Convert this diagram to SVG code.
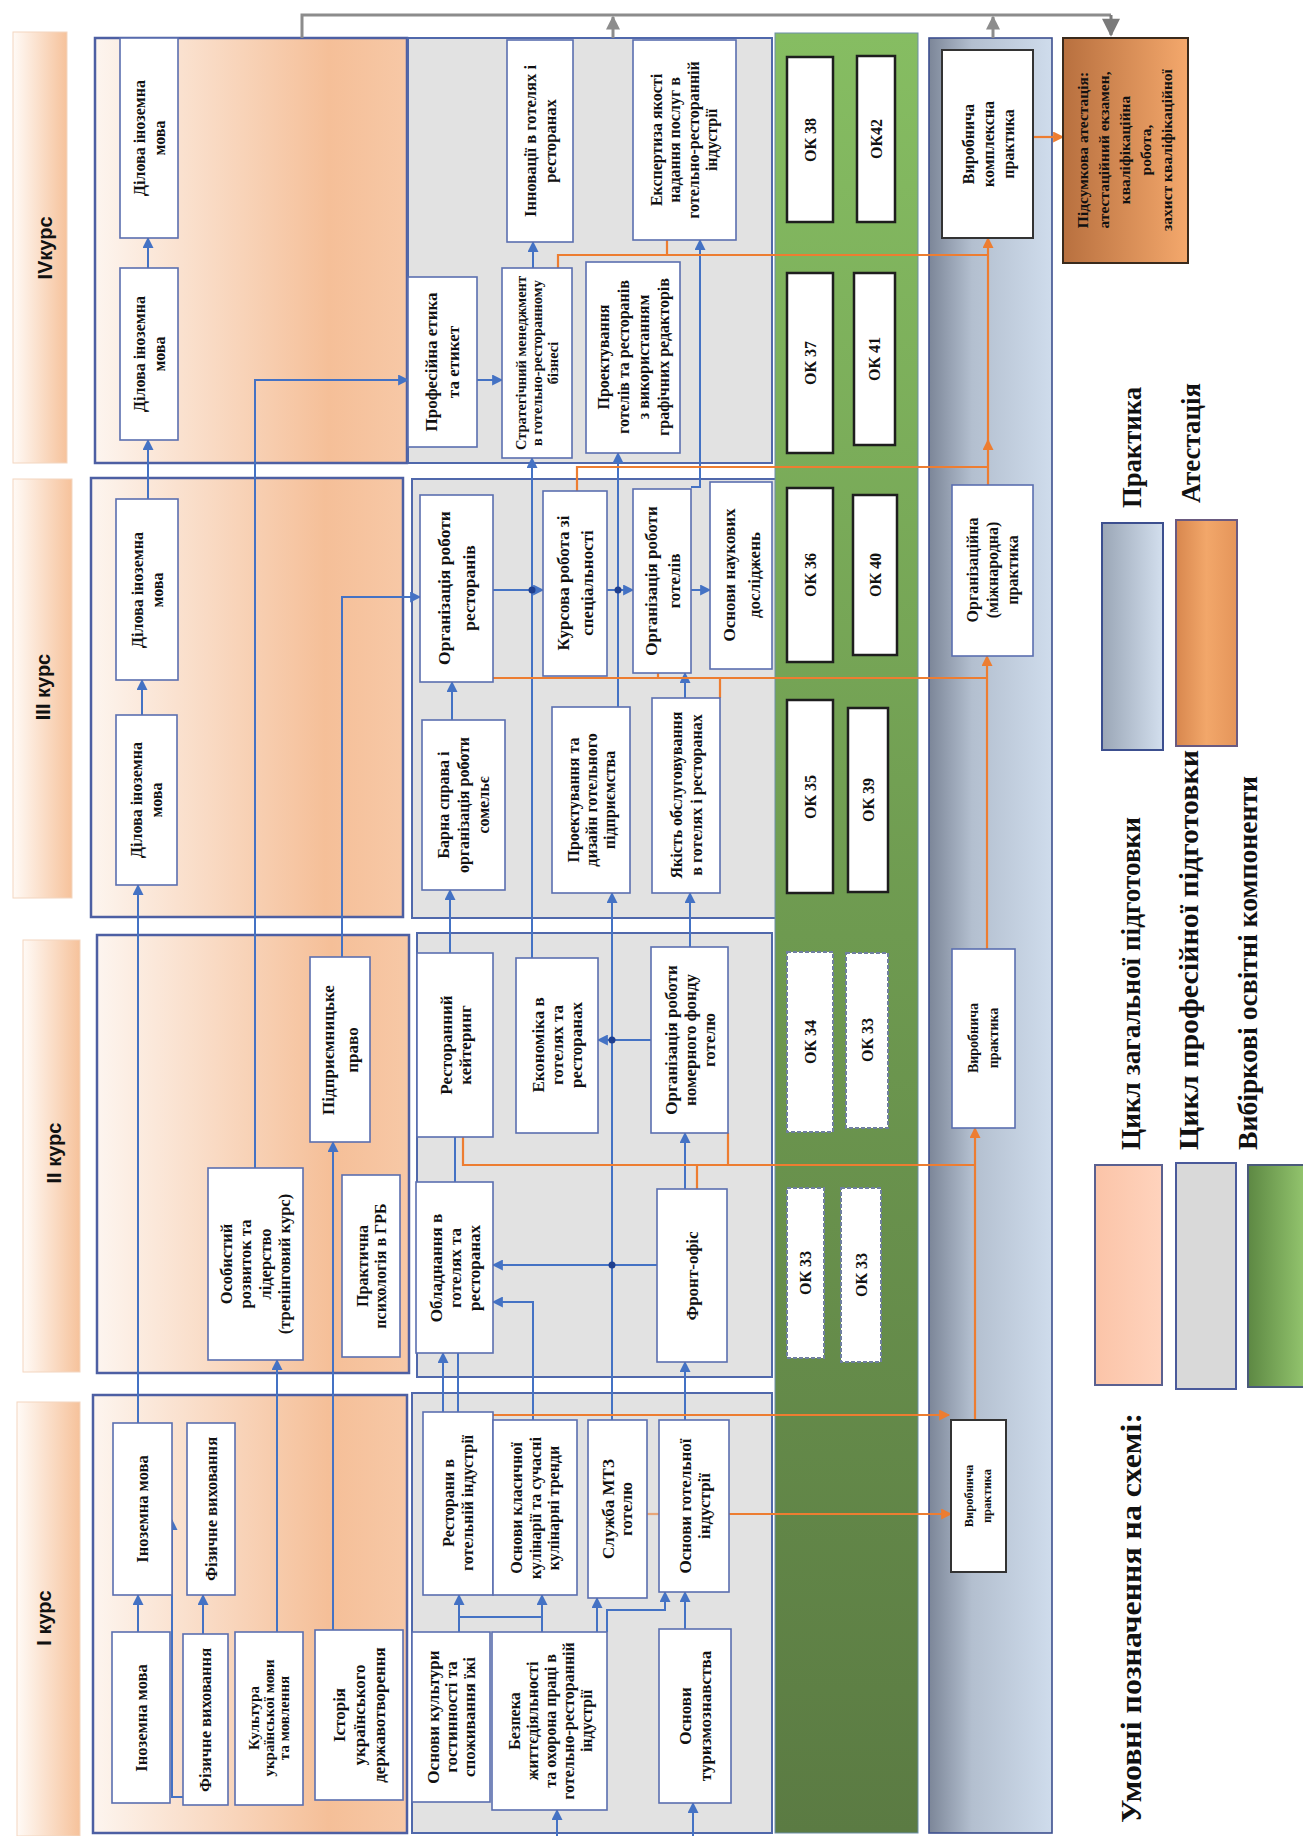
<svg xmlns="http://www.w3.org/2000/svg" width="1303" height="1836" viewBox="0 0 1303 1836">
<defs>
<style>
.pp{fill:url(#gPeach);stroke:#4d5fa3;stroke-width:2.5}
.gp{fill:#e2e2e2;stroke:#5068ab;stroke-width:2}
.band{fill:url(#gBand);stroke:#f3d6c0;stroke-width:1}
.bx{fill:#fff;stroke:#5b6fb0;stroke-width:1.6}
.ok{fill:#fff;stroke:#1e1e1e;stroke-width:2.5}
.okd{fill:#fff;stroke:#6f7f9f;stroke-width:2;stroke-dasharray:4 2}
.pb{fill:#fff;stroke:#333;stroke-width:2}
.t{font-family:"Liberation Serif","Times New Roman",serif;font-weight:bold;text-anchor:middle;fill:#111}
.k{font-family:"Liberation Sans",Arial,sans-serif;font-weight:bold;text-anchor:middle;fill:#111;font-size:20px}
.lg{font-family:"Liberation Serif","Times New Roman",serif;font-weight:bold;text-anchor:start;fill:#111}
.c{fill:none;stroke:#4472c4;stroke-width:2}
.ca{fill:none;stroke:#4472c4;stroke-width:2;marker-end:url(#ab)}
.o{fill:none;stroke:#ed7d31;stroke-width:2.2}
.oa{fill:none;stroke:#ed7d31;stroke-width:2.2;marker-end:url(#ao)}
.g{fill:none;stroke:#8c8c8c;stroke-width:3}
.ga{fill:none;stroke:#8c8c8c;stroke-width:3;marker-end:url(#ag)}
</style>
<linearGradient id="gPeach" x1="0" y1="0" x2="1" y2="0"><stop offset="0" stop-color="#fdf5ef"/><stop offset="0.75" stop-color="#f5bf98"/><stop offset="1" stop-color="#f7c8a6"/></linearGradient>
<linearGradient id="gBand" x1="0" y1="0" x2="1" y2="0"><stop offset="0" stop-color="#fffaf6"/><stop offset="1" stop-color="#f6c29b"/></linearGradient>
<linearGradient id="gGreen" x1="0" y1="0" x2="0" y2="1"><stop offset="0" stop-color="#86bd62"/><stop offset="0.5" stop-color="#6e9a50"/><stop offset="1" stop-color="#5b7b43"/></linearGradient>
<linearGradient id="gPrac" x1="0" y1="0" x2="1" y2="0"><stop offset="0" stop-color="#7c8698"/><stop offset="0.35" stop-color="#b3bfcf"/><stop offset="1" stop-color="#cfdcec"/></linearGradient>
<linearGradient id="gAtt" x1="0" y1="0" x2="1" y2="0"><stop offset="0" stop-color="#b8703f"/><stop offset="1" stop-color="#f4a86c"/></linearGradient>
<linearGradient id="gLPrac" x1="0" y1="0" x2="1" y2="0"><stop offset="0" stop-color="#9aa6b6"/><stop offset="1" stop-color="#d3dfee"/></linearGradient>
<linearGradient id="gLAtt" x1="0" y1="0" x2="1" y2="0"><stop offset="0" stop-color="#d8874e"/><stop offset="0.5" stop-color="#f2a76a"/><stop offset="1" stop-color="#e5955a"/></linearGradient>
<linearGradient id="gLPeach" x1="0" y1="0" x2="1" y2="0"><stop offset="0" stop-color="#fbc4a8"/><stop offset="1" stop-color="#ffd3bd"/></linearGradient>
<linearGradient id="gLGreen" x1="0" y1="0" x2="1" y2="0"><stop offset="0" stop-color="#5d8843"/><stop offset="1" stop-color="#96c870"/></linearGradient>
<marker id="ab" viewBox="0 0 10 10" refX="9" refY="5" markerWidth="12" markerHeight="11" markerUnits="userSpaceOnUse" orient="auto"><path d="M0,0 L10,5 L0,10 z" fill="#4472c4"/></marker>
<marker id="ao" viewBox="0 0 10 10" refX="9" refY="5" markerWidth="12" markerHeight="11" markerUnits="userSpaceOnUse" orient="auto"><path d="M0,0 L10,5 L0,10 z" fill="#ed7d31"/></marker>
<marker id="ag" viewBox="0 0 10 10" refX="9" refY="5" markerWidth="14" markerHeight="14" markerUnits="userSpaceOnUse" orient="auto"><path d="M0,0 L10,5 L0,10 z" fill="#8c8c8c"/></marker>
<marker id="agb" viewBox="0 0 10 10" refX="9" refY="5" markerWidth="20" markerHeight="18" markerUnits="userSpaceOnUse" orient="auto"><path d="M0,0 L10,5 L0,10 z" fill="#7a7a7a"/></marker>
</defs>
<rect width="1303" height="1836" fill="#fff"/>

<g id="bands">
<rect class="band" x="13" y="32" width="54" height="431"/>
<rect class="band" x="13" y="479" width="59" height="419"/>
<rect class="band" x="23" y="940" width="57" height="432"/>
<rect class="band" x="17" y="1402" width="63" height="434"/>
<text class="k" transform="rotate(-90 52 248)" x="52" y="248">IVкурс</text>
<text class="k" transform="rotate(-90 50 687)" x="50" y="687">III курс</text>
<text class="k" transform="rotate(-90 61 1153)" x="61" y="1153">II курс</text>
<text class="k" transform="rotate(-90 51 1618)" x="51" y="1618">I курс</text>
</g>

<g id="panels">
<rect class="pp" x="95" y="38" width="312" height="425"/>
<rect class="pp" x="91" y="478" width="312" height="439"/>
<rect class="pp" x="97" y="935" width="312" height="438"/>
<rect class="pp" x="93" y="1395" width="314" height="438"/>
<rect class="gp" x="408" y="38" width="364" height="425"/>
<rect class="gp" x="412" y="479" width="365" height="439"/>
<rect class="gp" x="417" y="933" width="355" height="444"/>
<rect class="gp" x="412" y="1393" width="360" height="440"/>
<rect x="775" y="33" width="143" height="1800" fill="url(#gGreen)" stroke="#6d8fa8" stroke-width="1"/>
<rect x="929" y="38" width="123" height="1795" fill="url(#gPrac)" stroke="#3c4f8f" stroke-width="1.6"/>
</g>

<g id="connectors">
<path class="g" d="M302,38 V15 H1111"/>
<path d="M1111,15 V35" fill="none" stroke="#7a7a7a" stroke-width="3" marker-end="url(#agb)"/>
<path class="ga" d="M613,38 V17"/>
<path class="ga" d="M993,38 V17"/>

<path class="ca" d="M148,268 V238"/>
<path class="ca" d="M148,499 V440"/>
<path class="ca" d="M142,715 V680"/>
<path class="ca" d="M138,1423 V885"/>
<path class="ca" d="M138,1632 V1595"/>
<path class="ca" d="M203,1634 V1595"/>
<path class="ca" d="M183,1797 H172 V1520"/>
<path class="ca" d="M277,1632 V1360"/>
<path class="ca" d="M333,1630 V1142"/>
<path class="ca" d="M255,1168 V380 H408"/>
<path class="ca" d="M342,957 V597 H420"/>
<path class="ca" d="M477,380 H502"/>
<path class="ca" d="M533,268 V242"/>
<path class="ca" d="M691,487 H700 V240"/>
<path class="ca" d="M618,707 V453"/>
<path class="ca" d="M493,590 H543"/>
<path class="ca" d="M607,590 H633"/>
<path class="ca" d="M691,590 H710"/>
<path class="ca" d="M452,720 V682"/>
<path class="ca" d="M450,953 V890"/>
<path class="ca" d="M532,958 V458"/>
<path class="ca" d="M612,1420 V893"/>
<path class="ca" d="M685,698 V673"/>
<path class="ca" d="M690,947 V893"/>
<path class="ca" d="M651,1040 H598"/>
<path class="ca" d="M685,1189 V1133"/>
<path class="ca" d="M657,1265 H493"/>
<path class="ca" d="M533,1420 V1302 H493"/>
<path class="c" d="M455,1182 V1137"/>
<path class="ca" d="M443,1412 V1353"/>
<path class="c" d="M458,1412 V1353"/>
<path class="ca" d="M685,1420 V1362"/>
<path class="ca" d="M459,1632 V1595"/>
<path class="ca" d="M542,1632 V1595"/>
<path class="c" d="M459,1617 H542"/>
<path class="ca" d="M597,1632 V1598"/>
<path class="ca" d="M607,1632 V1610 H665 V1592"/>
<path class="ca" d="M685,1629 V1592"/>
<path class="ca" d="M557,1836 V1810"/>
<path class="ca" d="M693,1836 V1803"/>
<circle cx="532" cy="590" r="3.5" fill="#1f3f8f"/>
<circle cx="618" cy="590" r="3.5" fill="#1f3f8f"/>
<circle cx="612" cy="1040" r="3.5" fill="#1f3f8f"/>
<circle cx="612" cy="1265" r="3.5" fill="#1f3f8f"/>

<path class="o" d="M558,268 V255 H988"/>
<path class="o" d="M667,240 V255"/>
<path class="oa" d="M988,485 V440"/>
<path class="oa" d="M988,445 V238"/>
<path class="o" d="M577,491 V467 H988"/>
<path class="oa" d="M1033,137 H1063"/>
<path class="o" d="M493,678 H987"/>
<path class="o" d="M658,673 V678"/>
<path class="o" d="M720,698 V678"/>
<path class="oa" d="M987,949 V656"/>
<path class="o" d="M463,1137 V1165 H975"/>
<path class="o" d="M697,1189 V1165"/>
<path class="o" d="M728,1133 V1165"/>
<path class="oa" d="M975,1420 V1128"/>
<path class="oa" d="M493,1415 H949"/>
<path class="oa" d="M729,1514 H951"/>
<path class="o" d="M647,1514 H659" opacity="0.6"/>
</g>

<g id="n-dim4a"><rect class="bx" x="120" y="38" width="58" height="200"/><text class="t" font-size="16" transform="rotate(-90 149 138)" x="149" y="133.6"><tspan x="149">Ділова іноземна</tspan><tspan x="149" dy="20">мова</tspan></text></g>
<g id="n-dim4b"><rect class="bx" x="120" y="268" width="58" height="172"/><text class="t" font-size="16" transform="rotate(-90 149 354)" x="149" y="349.6"><tspan x="149">Ділова іноземна</tspan><tspan x="149" dy="20">мова</tspan></text></g>
<g id="n-dim3a"><rect class="bx" x="116" y="499" width="62" height="181"/><text class="t" font-size="16" transform="rotate(-90 147 590)" x="147" y="585.6"><tspan x="147">Ділова іноземна</tspan><tspan x="147" dy="20">мова</tspan></text></g>
<g id="n-dim3b"><rect class="bx" x="116" y="715" width="61" height="170"/><text class="t" font-size="16" transform="rotate(-90 146 800)" x="146" y="795.6"><tspan x="146">Ділова іноземна</tspan><tspan x="146" dy="20">мова</tspan></text></g>
<g id="n-osob"><rect class="bx" x="208" y="1168" width="95" height="192"/><text class="t" font-size="16.5" transform="rotate(-90 255 1264)" x="255" y="1240.5"><tspan x="255">Особистий</tspan><tspan x="255" dy="19.5">розвиток та</tspan><tspan x="255" dy="19.5">лідерство</tspan><tspan x="255" dy="19.5">(тренінговий курс)</tspan></text></g>
<g id="n-pidpr"><rect class="bx" x="310" y="957" width="60" height="185"/><text class="t" font-size="17" transform="rotate(-90 340 1050)" x="340" y="1044"><tspan x="340">Підприємницьке</tspan><tspan x="340" dy="24">право</tspan></text></g>
<g id="n-psych"><rect class="bx" x="342" y="1175" width="58" height="182"/><text class="t" font-size="16" transform="rotate(-90 371 1266)" x="371" y="1262.6"><tspan x="371">Практична</tspan><tspan x="371" dy="18">психологія в ГРБ</tspan></text></g>
<g id="n-im1a"><rect class="bx" x="113" y="1423" width="59" height="172"/><text class="t" font-size="16.5" transform="rotate(-90 142 1509)" x="142" y="1514.8">Іноземна мова</text></g>
<g id="n-fv1a"><rect class="bx" x="187" y="1423" width="48" height="172"/><text class="t" font-size="16.5" transform="rotate(-90 211 1509)" x="211" y="1514.8">Фізичне виховання</text></g>
<g id="n-im1b"><rect class="bx" x="112" y="1632" width="58" height="171"/><text class="t" font-size="16.5" transform="rotate(-90 141 1718)" x="141" y="1723.8">Іноземна мова</text></g>
<g id="n-fv1b"><rect class="bx" x="183" y="1634" width="45" height="171"/><text class="t" font-size="16.5" transform="rotate(-90 205 1720)" x="205" y="1725.8">Фізичне виховання</text></g>
<g id="n-kult"><rect class="bx" x="235" y="1632" width="68" height="173"/><text class="t" font-size="15" transform="rotate(-90 269 1718)" x="269" y="1708.3"><tspan x="269">Культура</tspan><tspan x="269" dy="15">української мови</tspan><tspan x="269" dy="15">та мовлення</tspan></text></g>
<g id="n-hist"><rect class="bx" x="315" y="1630" width="88" height="170"/><text class="t" font-size="17" transform="rotate(-90 359 1715)" x="359" y="1701"><tspan x="359">Історія</tspan><tspan x="359" dy="20">українського</tspan><tspan x="359" dy="20">державотворення</tspan></text></g>

<g id="n-etyka"><rect class="bx" x="408" y="277" width="69" height="170"/><text class="t" font-size="17" transform="rotate(-90 442 362)" x="442" y="357"><tspan x="442">Професійна етика</tspan><tspan x="442" dy="22">та етикет</tspan></text></g>
<g id="n-strat"><rect class="bx" x="502" y="268" width="70" height="190"/><text class="t" font-size="14.5" transform="rotate(-90 537 363)" x="537" y="352.1"><tspan x="537">Стратегічний менеджмент</tspan><tspan x="537" dy="16">в готельно-ресторанному</tspan><tspan x="537" dy="16">бізнесі</tspan></text></g>
<g id="n-innov"><rect class="bx" x="507" y="40" width="66" height="202"/><text class="t" font-size="16.5" transform="rotate(-90 540 141)" x="540" y="136.8"><tspan x="540">Інновації в готелях і</tspan><tspan x="540" dy="20">ресторанах</tspan></text></g>
<g id="n-expert"><rect class="bx" x="633" y="40" width="103" height="200"/><text class="t" font-size="16" transform="rotate(-90 684 140)" x="684" y="117.9"><tspan x="684">Експертиза якості</tspan><tspan x="684" dy="18.5">надання послуг в</tspan><tspan x="684" dy="18.5">готельно-ресторанній</tspan><tspan x="684" dy="18.5">індустрії</tspan></text></g>
<g id="n-proekt4"><rect class="bx" x="586" y="262" width="94" height="191"/><text class="t" font-size="16" transform="rotate(-90 633 357)" x="633" y="332.6"><tspan x="633">Проектування</tspan><tspan x="633" dy="20">готелів та ресторанів</tspan><tspan x="633" dy="20">з використанням</tspan><tspan x="633" dy="20">графічних редакторів</tspan></text></g>
<g id="n-orgrest"><rect class="bx" x="420" y="495" width="73" height="187"/><text class="t" font-size="17.5" transform="rotate(-90 456 588)" x="456" y="581.6"><tspan x="456">Організація роботи</tspan><tspan x="456" dy="25">ресторанів</tspan></text></g>
<g id="n-kurs"><rect class="bx" x="543" y="491" width="64" height="185"/><text class="t" font-size="17" transform="rotate(-90 575 583)" x="575" y="577"><tspan x="575">Курсова робота зі</tspan><tspan x="575" dy="24">спеціальності</tspan></text></g>
<g id="n-orghot"><rect class="bx" x="633" y="489" width="58" height="184"/><text class="t" font-size="17" transform="rotate(-90 662 581)" x="662" y="575.5"><tspan x="662">Організація роботи</tspan><tspan x="662" dy="23">готелів</tspan></text></g>
<g id="n-nauk"><rect class="bx" x="710" y="482" width="62" height="187"/><text class="t" font-size="17" transform="rotate(-90 741 575)" x="741" y="568.5"><tspan x="741">Основи наукових</tspan><tspan x="741" dy="25">досліджень</tspan></text></g>
<g id="n-barna"><rect class="bx" x="422" y="720" width="83" height="170"/><text class="t" font-size="16" transform="rotate(-90 463 805)" x="463" y="790.6"><tspan x="463">Барна справа і</tspan><tspan x="463" dy="20">організація роботи</tspan><tspan x="463" dy="20">сомельє</tspan></text></g>
<g id="n-dyzain"><rect class="bx" x="552" y="707" width="78" height="186"/><text class="t" font-size="16" transform="rotate(-90 591 800)" x="591" y="787.6"><tspan x="591">Проектування  та</tspan><tspan x="591" dy="18">дизайн готельного</tspan><tspan x="591" dy="18">підприємства</tspan></text></g>
<g id="n-yakist"><rect class="bx" x="652" y="698" width="68" height="195"/><text class="t" font-size="16" transform="rotate(-90 686 795)" x="686" y="790.6"><tspan x="686">Якість обслуговування</tspan><tspan x="686" dy="20">в готелях і ресторанах</tspan></text></g>
<g id="n-keit"><rect class="bx" x="417" y="953" width="76" height="184"/><text class="t" font-size="17" transform="rotate(-90 455 1045)" x="455" y="1041.5"><tspan x="455">Ресторанний</tspan><tspan x="455" dy="19">кейтеринг</tspan></text></g>
<g id="n-ekon"><rect class="bx" x="516" y="958" width="82" height="175"/><text class="t" font-size="17" transform="rotate(-90 557 1045)" x="557" y="1032"><tspan x="557">Економіка в</tspan><tspan x="557" dy="19">готелях та</tspan><tspan x="557" dy="19">ресторанах</tspan></text></g>
<g id="n-nomer"><rect class="bx" x="651" y="947" width="77" height="186"/><text class="t" font-size="17" transform="rotate(-90 690 1040)" x="690" y="1027"><tspan x="690">Організація роботи</tspan><tspan x="690" dy="19">номерного фонду</tspan><tspan x="690" dy="19">готелю</tspan></text></g>
<g id="n-oblad"><rect class="bx" x="416" y="1182" width="77" height="171"/><text class="t" font-size="17" transform="rotate(-90 455 1268)" x="455" y="1255"><tspan x="455">Обладнання в</tspan><tspan x="455" dy="19">готелях та</tspan><tspan x="455" dy="19">ресторанах</tspan></text></g>
<g id="n-front"><rect class="bx" x="657" y="1189" width="70" height="173"/><text class="t" font-size="17" transform="rotate(-90 692 1276)" x="692" y="1282">Фронт-офіс</text></g>
<g id="n-rest1"><rect class="bx" x="423" y="1412" width="70" height="183"/><text class="t" font-size="16" transform="rotate(-90 458 1503)" x="458" y="1499.1"><tspan x="458">Ресторани в</tspan><tspan x="458" dy="19">готельній індустрії</tspan></text></g>
<g id="n-kulin"><rect class="bx" x="493" y="1420" width="84" height="175"/><text class="t" font-size="16" transform="rotate(-90 535 1508)" x="535" y="1495.1"><tspan x="535">Основи класичної</tspan><tspan x="535" dy="18.5">кулінарії та сучасні</tspan><tspan x="535" dy="18.5">кулінарні тренди</tspan></text></g>
<g id="n-mtz"><rect class="bx" x="588" y="1420" width="59" height="178"/><text class="t" font-size="17" transform="rotate(-90 617 1509)" x="617" y="1506"><tspan x="617">Служба МТЗ</tspan><tspan x="617" dy="18">готелю</tspan></text></g>
<g id="n-gotind"><rect class="bx" x="659" y="1420" width="70" height="172"/><text class="t" font-size="17" transform="rotate(-90 694 1506)" x="694" y="1502.5"><tspan x="694">Основи готельної</tspan><tspan x="694" dy="19">індустрії</tspan></text></g>
<g id="n-gostyn"><rect class="bx" x="412" y="1632" width="78" height="170"/><text class="t" font-size="17" transform="rotate(-90 451 1717)" x="451" y="1705"><tspan x="451">Основи культури</tspan><tspan x="451" dy="18">гостинності та</tspan><tspan x="451" dy="18">споживання їжі</tspan></text></g>
<g id="n-bezp"><rect class="bx" x="492" y="1632" width="115" height="178"/><text class="t" font-size="16" transform="rotate(-90 550 1721)" x="550" y="1690.6"><tspan x="550">Безпека</tspan><tspan x="550" dy="18">життєдіяльності</tspan><tspan x="550" dy="18">та охорона праці в</tspan><tspan x="550" dy="18">готельно-ресторанній</tspan><tspan x="550" dy="18">індустрії</tspan></text></g>
<g id="n-turyzm"><rect class="bx" x="659" y="1629" width="72" height="174"/><text class="t" font-size="17" transform="rotate(-90 695 1716)" x="695" y="1712"><tspan x="695">Основи</tspan><tspan x="695" dy="20">туризмознавства</tspan></text></g>

<g id="n-ok38"><rect class="ok" x="787" y="57" width="46" height="165"/><text class="t" font-size="16" transform="rotate(-90 810 140)" x="810" y="145.6">ОК 38</text></g>
<g id="n-ok42"><rect class="ok" x="857" y="56" width="38" height="166"/><text class="t" font-size="16" transform="rotate(-90 876 139)" x="876" y="144.6">ОК42</text></g>
<g id="n-ok37"><rect class="ok" x="787" y="273" width="46" height="180"/><text class="t" font-size="16" transform="rotate(-90 810 363)" x="810" y="368.6">ОК 37</text></g>
<g id="n-ok41"><rect class="ok" x="854" y="273" width="41" height="172"/><text class="t" font-size="16" transform="rotate(-90 874.5 359)" x="874.5" y="364.6">ОК 41</text></g>
<g id="n-ok36"><rect class="ok" x="787" y="488" width="46" height="174"/><text class="t" font-size="16" transform="rotate(-90 810 575)" x="810" y="580.6">ОК 36</text></g>
<g id="n-ok40"><rect class="ok" x="853" y="495" width="44" height="160"/><text class="t" font-size="16" transform="rotate(-90 875 575)" x="875" y="580.6">ОК 40</text></g>
<g id="n-ok35"><rect class="ok" x="787" y="700" width="46" height="193"/><text class="t" font-size="16" transform="rotate(-90 810 797)" x="810" y="802.6">ОК 35</text></g>
<g id="n-ok39"><rect class="ok" x="848" y="708" width="40" height="184"/><text class="t" font-size="16" transform="rotate(-90 868 800)" x="868" y="805.6">ОК 39</text></g>
<g id="n-ok34"><rect class="okd" x="787" y="952" width="46" height="180"/><text class="t" font-size="16" transform="rotate(-90 810 1042)" x="810" y="1047.6">ОК 34</text></g>
<g id="n-ok33a"><rect class="okd" x="846" y="953" width="42" height="175"/><text class="t" font-size="16" transform="rotate(-90 867 1040)" x="867" y="1045.6">ОК 33</text></g>
<g id="n-ok33b"><rect class="okd" x="787" y="1188" width="37" height="170"/><text class="t" font-size="16" transform="rotate(-90 805.5 1273)" x="805.5" y="1278.6">ОК 33</text></g>
<g id="n-ok33c"><rect class="okd" x="841" y="1188" width="40" height="174"/><text class="t" font-size="16" transform="rotate(-90 861 1275)" x="861" y="1280.6">ОК 33</text></g>

<g id="n-vkp"><rect class="pb" x="942" y="50" width="91" height="188"/><text class="t" font-size="16" transform="rotate(-90 988 144)" x="988" y="129.6"><tspan x="988">Виробнича</tspan><tspan x="988" dy="20">комплексна</tspan><tspan x="988" dy="20">практика</tspan></text></g>
<g id="n-orgpr"><rect class="bx" x="952" y="485" width="81" height="171"/><text class="t" font-size="16" transform="rotate(-90 992 570)" x="992" y="555.6"><tspan x="992">Організаційна</tspan><tspan x="992" dy="20">(міжнародна)</tspan><tspan x="992" dy="20">практика</tspan></text></g>
<g id="n-vp2"><rect class="bx" x="952" y="949" width="63" height="179"/><text class="t" font-size="14" transform="rotate(-90 983 1038)" x="983" y="1032.9"><tspan x="983">Виробнича</tspan><tspan x="983" dy="20">практика</tspan></text></g>
<g id="n-vp1"><rect class="pb" x="951" y="1420" width="55" height="152"/><text class="t" font-size="12.5" transform="rotate(-90 978 1496)" x="978" y="1491.4"><tspan x="978">Виробнича</tspan><tspan x="978" dy="18">практика</tspan></text></g>

<g id="n-atest"><rect x="1063" y="38" width="125" height="225" fill="url(#gAtt)" stroke="#3a2a1c" stroke-width="2"/><text class="t" font-size="15.5" transform="rotate(-90 1125 150)" x="1125" y="113.4"><tspan x="1125">Підсумкова атестація:</tspan><tspan x="1125" dy="21">атестаційний екзамен,</tspan><tspan x="1125" dy="21">кваліфікаційна</tspan><tspan x="1125" dy="21">робота,</tspan><tspan x="1125" dy="21">захист кваліфікаційної</tspan></text></g>

<g id="legend">
<text class="lg" font-size="30" transform="rotate(-90 1141 1823)" x="1141" y="1823" textLength="410" lengthAdjust="spacingAndGlyphs">Умовні позначення на схемі:</text>
<rect x="1095" y="1165" width="67" height="220" fill="url(#gLPeach)" stroke="#5a6090" stroke-width="2"/>
<rect x="1176" y="1163" width="60" height="226" fill="#d9d9d9" stroke="#4a5a9a" stroke-width="2"/>
<rect x="1248" y="1165" width="60" height="222" fill="url(#gLGreen)" stroke="#4a5a7a" stroke-width="2"/>
<text class="lg" font-size="27" transform="rotate(-90 1140 1150)" x="1140" y="1150" textLength="333" lengthAdjust="spacingAndGlyphs">Цикл загальної підготовки</text>
<text class="lg" font-size="27" transform="rotate(-90 1198 1150)" x="1198" y="1150" textLength="400" lengthAdjust="spacingAndGlyphs">Цикл професійної підготовки</text>
<text class="lg" font-size="27" transform="rotate(-90 1257 1150)" x="1257" y="1150" textLength="374" lengthAdjust="spacingAndGlyphs">Вибіркові освітні компоненти</text>
<rect x="1102" y="523" width="61" height="227" fill="url(#gLPrac)" stroke="#3c4f8f" stroke-width="2"/>
<rect x="1176" y="520" width="61" height="226" fill="url(#gLAtt)" stroke="#6a5a80" stroke-width="2"/>
<text class="lg" font-size="27" transform="rotate(-90 1141 508)" x="1141" y="508" textLength="121" lengthAdjust="spacingAndGlyphs">Практика</text>
<text class="lg" font-size="27" transform="rotate(-90 1200 503)" x="1200" y="503" textLength="120" lengthAdjust="spacingAndGlyphs">Атестація</text>
</g>
</svg>
